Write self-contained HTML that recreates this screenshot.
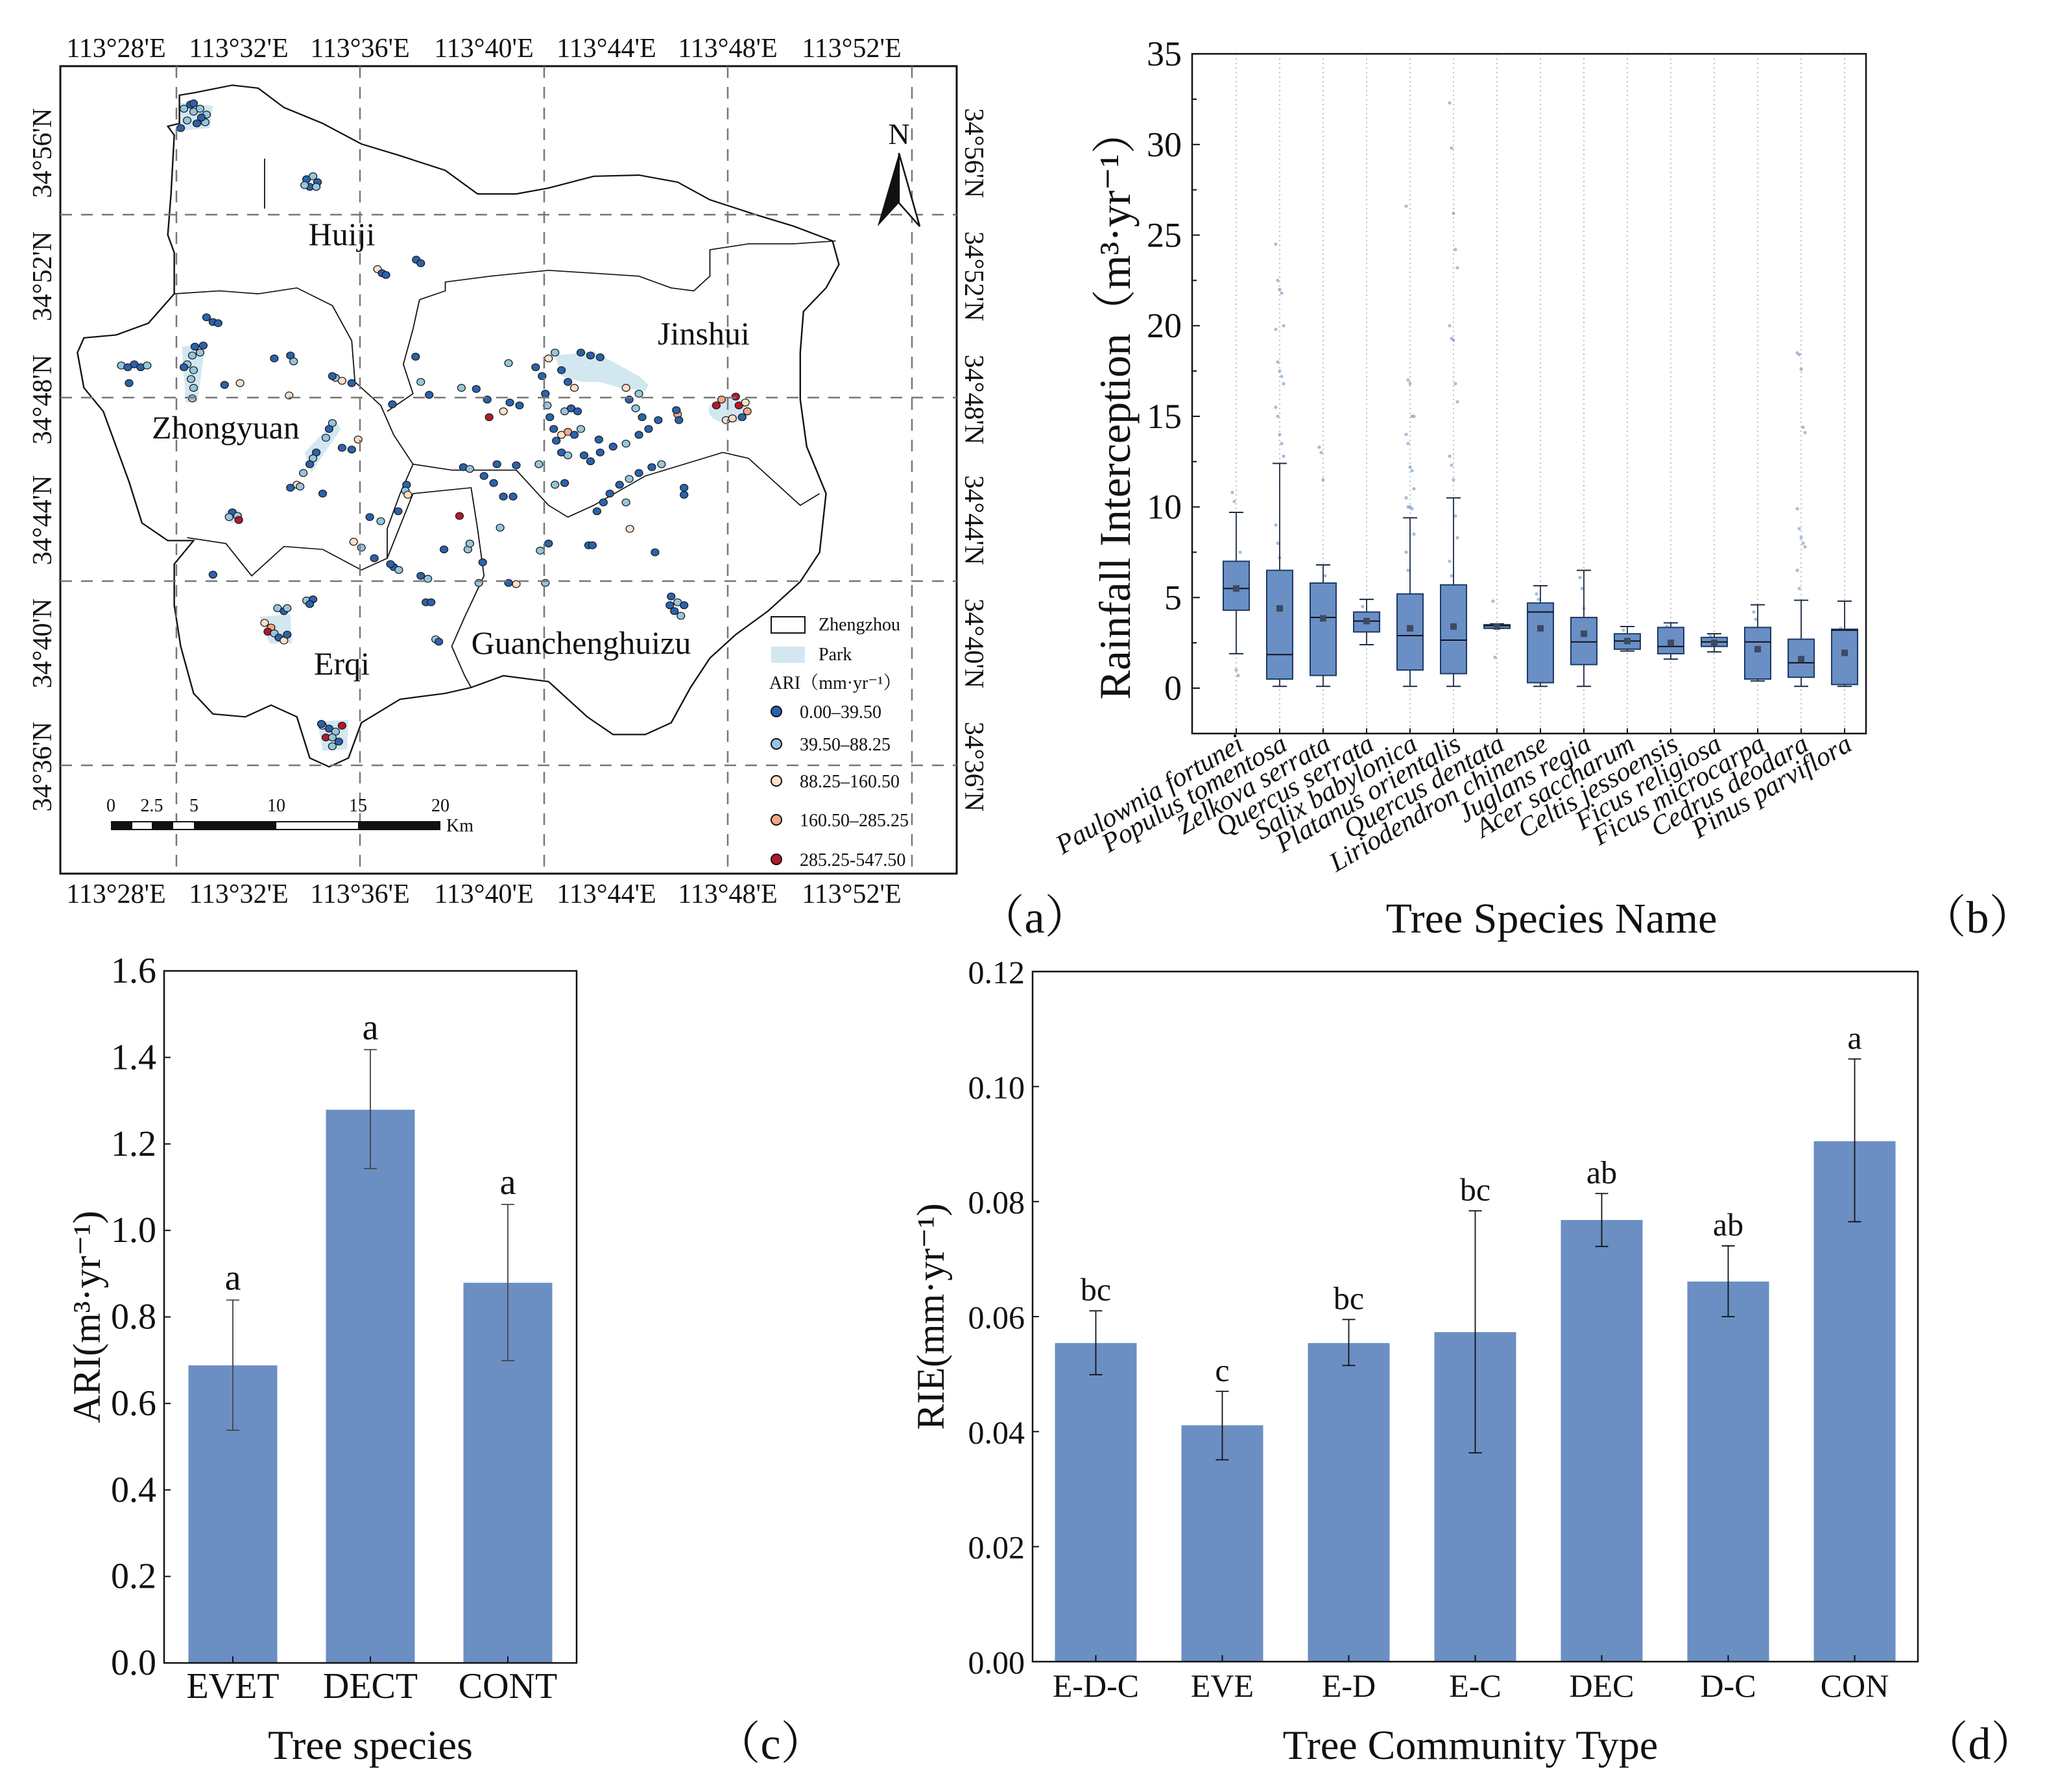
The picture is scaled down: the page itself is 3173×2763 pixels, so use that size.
<!DOCTYPE html>
<html><head><meta charset="utf-8"><style>
html,body{margin:0;padding:0;background:#fff}
svg{display:block}
text{font-family:"Liberation Serif","Noto Serif CJK SC",serif;fill:#111}
</style></head><body>
<svg id="fig" xmlns="http://www.w3.org/2000/svg" width="3173" height="2763" viewBox="0 0 3173 2763">
<g id="mapA">
  <rect x="93" y="102" width="1382" height="1245" fill="none" stroke="#111" stroke-width="3"/>
  <g transform="scale(0.995,0.906)">
    <g fill="#d3e7f1" stroke="none">
      <polygon points="278,175 330,180 325,218 280,222"/>
      <polygon points="860,605 920,598 990,640 1005,655 1000,665 960,660 930,650 900,650 870,640"/>
      <ellipse cx="1130" cy="698" rx="32" ry="22"/>
      <ellipse cx="362" cy="878" rx="14" ry="12"/>
      <polygon points="492,1228 540,1225 538,1275 500,1278"/>
      <polygon points="402,1050 450,1045 452,1095 418,1095"/>
      <polygon points="282,590 318,585 306,685 288,685"/>
      <polygon points="472,770 520,715 528,730 482,805"/>
    </g>
    <path fill="none" stroke="#111" stroke-width="2.4" d="M278,162 L300,158 360,145 400,150 440,183 500,210 560,245 620,265 690,290 740,330 800,330 850,320 920,300 990,298 1050,310 1100,340 1170,365 1230,385 1290,410 1300,450 1280,490 1245,530 1240,600 1240,680 1250,760 1280,840 1270,940 1240,990 1190,1040 1140,1080 1100,1120 1070,1170 1040,1230 1000,1250 950,1250 910,1220 850,1160 780,1150 730,1170 690,1180 620,1190 560,1230 540,1290 510,1305 480,1290 460,1220 420,1200 380,1220 330,1215 300,1180 280,1100 270,1030 270,960 300,920 260,920 220,890 200,820 180,760 160,700 130,660 120,600 130,575 180,570 230,550 270,500 270,430 260,400 265,330 270,230 260,215 278,210 Z"/>
    <path fill="none" stroke="#111" stroke-width="1.8" d="M270,500 L340,495 400,500 460,490 515,520 545,580 550,650 590,690 610,740 640,790 700,800 740,800 800,800 850,860 880,880 920,860 1000,810 1060,790 1120,770 1160,780 1200,820 1240,860 1270,840 M650,510 L690,495 690,480 760,470 850,460 990,470 1040,490 1075,495 1100,470 1100,425 1160,415 1230,415 1295,410 M650,510 L640,560 625,620 640,670 600,700 M290,915 L350,925 390,980 440,930 500,935 560,970 600,950 600,900 620,840 640,790 M600,950 L640,840 730,830 740,900 750,980 720,1050 700,1100 720,1150 730,1170 M410,270 L410,355"/>
    <g id="dots"></g>
  </g>
  <g stroke="#777" stroke-width="2.5" stroke-dasharray="18,14">
    <line x1="272" y1="102" x2="272" y2="1347"/><line x1="555" y1="102" x2="555" y2="1347"/><line x1="839" y1="102" x2="839" y2="1347"/><line x1="1122" y1="102" x2="1122" y2="1347"/><line x1="1406" y1="102" x2="1406" y2="1347"/>
    <line x1="93" y1="331" x2="1475" y2="331"/><line x1="93" y1="613" x2="1475" y2="613"/><line x1="93" y1="896" x2="1475" y2="896"/><line x1="93" y1="1180" x2="1475" y2="1180"/>
  </g>
  <g font-size="42" text-anchor="middle">
    <text x="179" y="88">113°28'E</text><text x="368" y="88">113°32'E</text><text x="555" y="88">113°36'E</text><text x="746" y="88">113°40'E</text><text x="935" y="88">113°44'E</text><text x="1122" y="88">113°48'E</text><text x="1313" y="88">113°52'E</text>
  </g>
  <g font-size="42" text-anchor="middle">
    <text x="179" y="1392">113°28'E</text><text x="368" y="1392">113°32'E</text><text x="555" y="1392">113°36'E</text><text x="746" y="1392">113°40'E</text><text x="935" y="1392">113°44'E</text><text x="1122" y="1392">113°48'E</text><text x="1313" y="1392">113°52'E</text>
  </g>
  <g font-size="42" text-anchor="middle">
    <text transform="translate(79,236) rotate(-90)">34°56'N</text><text transform="translate(79,426) rotate(-90)">34°52'N</text><text transform="translate(79,616) rotate(-90)">34°48'N</text><text transform="translate(79,802) rotate(-90)">34°44'N</text><text transform="translate(79,992) rotate(-90)">34°40'N</text><text transform="translate(79,1182) rotate(-90)">34°36'N</text>
  </g>
  <g font-size="42" text-anchor="middle">
    <text transform="translate(1488,236) rotate(90)">34°56'N</text><text transform="translate(1488,426) rotate(90)">34°52'N</text><text transform="translate(1488,616) rotate(90)">34°48'N</text><text transform="translate(1488,802) rotate(90)">34°44'N</text><text transform="translate(1488,992) rotate(90)">34°40'N</text><text transform="translate(1488,1182) rotate(90)">34°36'N</text>
  </g>
  <g font-size="50" text-anchor="middle">
    <text x="527" y="378">Huiji</text><text x="348" y="676">Zhongyuan</text><text x="1085" y="531">Jinshui</text><text x="527" y="1040">Erqi</text><text x="896" y="1008">Guanchenghuizu</text>
  </g>
  <g>
    <text x="1386" y="222" font-size="46" text-anchor="middle">N</text>
    <polygon points="1386,236 1353,349 1386,313" fill="#111"/>
    <polygon points="1386,236 1418,349 1386,313" fill="#fff" stroke="#111" stroke-width="2.5"/>
  </g>
  <g>
    <rect x="171" y="1266" width="508" height="14" fill="#111"/>
    <rect x="204" y="1268" width="30" height="10" fill="#fff"/><rect x="267" y="1268" width="32" height="10" fill="#fff"/><rect x="426" y="1268" width="126" height="10" fill="#fff"/>
    <g font-size="28" text-anchor="middle"><text x="171" y="1251">0</text><text x="234" y="1251">2.5</text><text x="299" y="1251">5</text><text x="426" y="1251">10</text><text x="552" y="1251">15</text><text x="679" y="1251">20</text></g>
    <text x="688" y="1282" font-size="28">Km</text>
  </g>
  <g>
    <rect x="1189" y="951" width="52" height="25" fill="#fff" stroke="#111" stroke-width="2"/>
    <text x="1262" y="972" font-size="28">Zhengzhou</text>
    <rect x="1189" y="997" width="52" height="25" fill="#d3e7f1"/>
    <text x="1262" y="1018" font-size="28">Park</text>
    <text x="1186" y="1062" font-size="28">ARI（mm·yr⁻¹）</text>
    <g id="legendItems"></g>
  </g>
</g>
<g id="panelB"></g>
<g id="panelC"></g>
<g id="panelD"></g>
<g font-size="70" text-anchor="middle">
  <text x="1595" y="1438">（a）</text><text x="3049" y="1438">（b）</text><text x="1188" y="2712">（c）</text><text x="3052" y="2712">（d）</text>
</g>
</svg>
<script>
// ---- map data (site coordinates in map units, ARI class) ----
const siteX=[285,295,300,310,320,290,305,318,280,300,312,475,485,492,480,490,472,585,592,598,645,652,320,330,338,188,198,208,218,228,200,302,298,290,300,296,300,298,285,310,315,348,372,425,450,455,448,520,530,545,515,515,510,505,490,485,480,470,460,450,465,530,545,555,500,360,368,370,355,573,590,548,560,580,610,618,605,630,628,632,617,608,644,652,665,715,738,755,758,780,790,805,788,718,728,770,800,750,765,780,795,835,830,840,850,860,870,880,890,900,915,930,845,848,852,858,862,870,880,890,900,875,885,895,870,880,905,915,930,950,970,990,1005,1020,995,985,975,970,990,928,925,935,945,960,975,990,1010,1025,1060,1060,970,976,1015,1050,1052,1048,875,860,1110,1118,1125,1135,1140,1145,1155,1158,1150,1040,1050,1045,1055,1060,1038,430,440,445,410,420,415,425,432,440,445,475,485,480,675,680,660,668,688,725,728,748,742,788,800,845,837,850,912,918,775,712,663,652,330,500,510,520,505,515,525,530,515,498];
const siteY=[185,178,190,185,195,205,210,208,218,176,200,305,300,310,318,318,315,458,465,468,442,448,540,548,550,622,625,620,625,622,652,590,605,620,630,645,660,678,625,600,588,655,652,610,605,615,673,643,648,652,640,720,730,745,770,780,790,805,825,830,828,762,765,748,840,872,878,885,880,880,887,922,932,950,965,970,960,825,835,842,870,688,607,650,672,660,662,680,710,700,685,690,618,795,798,790,792,810,822,845,845,790,625,640,610,600,630,650,660,600,605,608,670,690,710,730,750,740,735,740,730,700,695,700,770,775,775,785,770,760,755,740,730,715,710,695,680,660,670,748,870,855,840,825,815,805,795,790,830,842,855,900,940,705,715,698,822,825,690,680,715,712,675,690,685,700,710,1015,1025,1040,1048,1030,1030,1035,1040,1035,1060,1068,1075,1078,1085,1090,1080,1022,1020,1028,1088,1092,1025,1025,935,935,925,957,992,992,994,992,937,925,928,928,898,878,985,980,978,1235,1240,1245,1255,1255,1262,1235,1270,1232];
const siteClass=[1,0,1,1,1,1,0,1,0,0,0,0,1,0,0,1,1,2,0,0,0,0,0,0,0,1,0,0,0,1,0,0,1,1,1,1,1,1,0,1,0,0,2,0,0,1,2,1,2,0,0,1,0,1,0,1,0,1,2,0,1,0,0,2,0,0,1,4,1,0,1,2,1,0,0,1,0,0,1,2,0,0,0,1,0,1,0,0,4,2,0,0,1,0,1,0,0,0,0,0,0,1,0,0,2,1,0,0,2,0,0,0,0,1,0,0,0,2,3,0,1,1,0,0,0,1,0,0,0,0,1,0,0,0,0,1,0,2,1,0,0,0,0,0,1,0,0,1,0,0,1,2,0,3,0,0,0,1,4,3,2,2,4,4,2,3,0,0,1,0,1,0,0,1,0,1,2,3,4,1,0,2,0,1,0,0,1,0,0,0,0,1,1,0,1,0,2,1,1,0,0,0,1,4,1,0,0,1,0,1,4,1,0,4,1];
const classColors=["#2a63ad","#95c6df","#fde0c8","#f3a784","#b5182b"];
const classLabels=["0.00–39.50","39.50–88.25","88.25–160.50","160.50–285.25","285.25-547.50"];

// ---- panel b data ----
const speciesNames=["Paulownia fortunei","Populus tomentosa","Zelkova serrata","Quercus serrata","Salix babylonica","Platanus orientalis","Quercus dentata","Liriodendron chinense","Juglans regia","Acer saccharum","Celtis jessoensis","Ficus religiosa","Ficus microcarpa","Cedrus deodara","Pinus parviflora"];
const whiskerHigh=[9.7,12.4,6.8,4.9,9.4,10.5,3.55,5.65,6.5,3.4,3.6,3.0,4.6,4.85,4.8];
const q3Vals=[7.0,6.5,5.8,4.2,5.2,5.7,3.5,4.7,3.9,3.0,3.35,2.8,3.35,2.7,3.25];
const medianVals=[5.5,1.85,3.9,3.7,2.9,2.65,3.45,4.2,2.55,2.6,2.3,2.55,2.55,1.4,3.2];
const q1Vals=[4.3,0.5,0.7,3.1,1.0,0.8,3.3,0.3,1.3,2.15,1.9,2.3,0.5,0.6,0.2];
const whiskerLow=[1.9,0.1,0.1,2.4,0.1,0.1,3.3,0.1,0.1,2.05,1.6,2.0,0.4,0.1,0.1];
const meanVals=[5.5,4.4,3.85,3.7,3.3,3.4,3.4,3.3,3.0,2.6,2.5,2.5,2.15,1.6,1.95];
const outlierVals=[[10.8,10.3,1.0,0.7,7.5,6.2],[24.5,22.5,22,21.8,20,19.8,18,17.5,17.2,16.8,15.5,15,14,13.5,12.8,9,8,7.2],[13.3,13,11.5,6.2,5],[4.5],[26.6,17,16.8,15,15,14,13.5,12.2,12,11,10.5,10,10,9.9,8.5,7.5,6.5],[32.3,29.8,26.2,24.2,23.2,20,19.3,19.2,16.8,15.8,12.8,12.3,11.5,9.5,8.3,7,6.2],[4.8,1.7],[5.2,4.9],[6.1,5.5,4.4],[3.2],[3.4],[2.9],[4.2,3.8],[18.5,18.4,17.6,14.4,14.1,9.9,8.8,8.3,8,7.8,6.5,5.5],[3.3]];
const bTicks=[0,5,10,15,20,25,30,35];

// ---- panel c data ----
const cCats=["EVET","DECT","CONT"];
const cVals=[0.688,1.279,0.879];
const cErrHi=[0.839,1.418,1.060];
const cErrLo=[0.538,1.143,0.699];
const cLetters=["a","a","a"];
const cTicks=["0.0","0.2","0.4","0.6","0.8","1.0","1.2","1.4","1.6"];

// ---- panel d data ----
const dCats=["E-D-C","EVE","E-D","E-C","DEC","D-C","CON"];
const dVals=[0.0554,0.0411,0.0554,0.0573,0.0768,0.0661,0.0905];
const dErrHi=[0.0610,0.0470,0.0595,0.0784,0.0814,0.0723,0.1048];
const dErrLo=[0.0499,0.0351,0.0515,0.0363,0.0722,0.0600,0.0765];
const dLetters=["bc","c","bc","bc","ab","ab","a"];
const dTicks=["0.00","0.02","0.04","0.06","0.08","0.10","0.12"];

const NS="http://www.w3.org/2000/svg";
function mk(tag,attrs,parent){const e=document.createElementNS(NS,tag);for(const k in attrs)e.setAttribute(k,attrs[k]);parent.appendChild(e);return e;}
function tx(parent,x,y,str,size,anchor,extra){const t=mk("text",Object.assign({x:x,y:y,"font-size":size,"text-anchor":anchor||"middle"},extra||{}),parent);t.textContent=str;return t;}

// ---- map dots ----
const dotsG=document.getElementById("dots");
for(let i=0;i<siteX.length;i++){
  const cls=(siteClass[i]===undefined)?0:siteClass[i];
  const c=mk("circle",{cx:siteX[i],cy:siteY[i],r:6,fill:classColors[cls],stroke:"#1a1a1a","stroke-width":1.3},dotsG);
  
  
}
const legG=document.getElementById("legendItems");
const legY=[1097,1147,1204,1264,1325];
for(let i=0;i<5;i++){
  const c=mk("circle",{cx:1197,cy:legY[i],r:8,fill:classColors[i],stroke:"#111","stroke-width":2},legG);
  
  
  const t=tx(legG,1233,legY[i]+10,classLabels[i],28,"start");
  
  
}

// ---- panel b ----
const B=document.getElementById("panelB");
const bL=1838,bR=2877,bT=83,bBot=1131;
function yB(v){return 1061-v*27.94;}
function xB(i){return 1906+i*67;}
for(let i=0;i<speciesNames.length;i++){
  const g=mk("line",{x1:xB(i),y1:bT,x2:xB(i),y2:bBot,stroke:"#aaa","stroke-width":1.5,"stroke-dasharray":"2,5"},B);
  
  
}
for(let i=0;i<speciesNames.length;i++){
  const x=xB(i);
  const pts=outlierVals[i];
  for(let j=0;j<pts.length;j++){
    const p=mk("circle",{cx:x+((j%5)-2)*3,cy:yB(pts[j]),r:2.6,fill:"#5f86be","fill-opacity":0.55},B);
    
    
  }
  const w=mk("line",{x1:x,y1:yB(whiskerHigh[i]),x2:x,y2:yB(whiskerLow[i]),stroke:"#1b2b44","stroke-width":1.8},B);
  
  
  for(const v of [whiskerHigh[i],whiskerLow[i]]){
    const cap=mk("line",{x1:x-11,y1:yB(v),x2:x+11,y2:yB(v),stroke:"#1b2b44","stroke-width":2},B);
    
    
  }
  const box=mk("rect",{x:x-20,y:yB(q3Vals[i]),width:40,height:Math.max(2,yB(q1Vals[i])-yB(q3Vals[i])),fill:"#6a8fc5",stroke:"#1c3a66","stroke-width":2},B);
  
  
  const m=mk("line",{x1:x-20,y1:yB(medianVals[i]),x2:x+20,y2:yB(medianVals[i]),stroke:"#111","stroke-width":2},B);
  
  
  const mn=mk("rect",{x:x-5,y:yB(meanVals[i])-5,width:10,height:10,fill:"#3d4a5e"},B);
  
  
  const t=tx(B,0,0,speciesNames[i],42,"end",{transform:"translate("+(x+14)+","+(bBot+24)+") rotate(-30)","font-style":"italic"});
  
  
  const tk=mk("line",{x1:x,y1:bBot,x2:x,y2:bBot-8,stroke:"#111","stroke-width":2},B);
  
  
}
const bFrame=mk("rect",{x:bL,y:bT,width:bR-bL,height:bBot-bT,fill:"none",stroke:"#111","stroke-width":2.5},B);


for(let i=0;i<bTicks.length;i++){
  const y=yB(bTicks[i]);
  const t=tx(B,bL-16,y+18,String(bTicks[i]),54,"end");
  
  
  const tk=mk("line",{x1:bL,y1:y,x2:bL+12,y2:y,stroke:"#111","stroke-width":2},B);
  
  
  if(i<bTicks.length-1){
    const mt=mk("line",{x1:bL,y1:yB(bTicks[i]+2.5),x2:bL+7,y2:yB(bTicks[i]+2.5),stroke:"#111","stroke-width":2},B);
    
    
  }
}
const byt=tx(B,0,0,"Rainfall Interception（m³·yr⁻¹）",68,"middle",{transform:"translate(1742,624) rotate(-90)"});


const bxt=tx(B,2392,1438,"Tree Species Name",66,"middle");



// ---- generic bar panel ----
function barPanel(G,cats,vals,hi,lo,letters,ticks,maxV,L,R,T,Bt,x0,step,bw,ytitle,yx,xtitle,xtx,tickSize,letterSize,errColor){
  function y(v){return Bt-v*(Bt-T)/maxV;}
  function x(i){return x0+i*step;}
  for(let i=0;i<cats.length;i++){
    const b=mk("rect",{x:x(i)-bw/2,y:y(vals[i]),width:bw,height:Bt-y(vals[i]),fill:"#6b8fc2"},G);
    
    
    const e=mk("line",{x1:x(i),y1:y(hi[i]),x2:x(i),y2:y(lo[i]),stroke:errColor,"stroke-width":1.8},G);
    
    
    for(const v of [hi[i],lo[i]]){
      const c=mk("line",{x1:x(i)-10,y1:y(v),x2:x(i)+10,y2:y(v),stroke:errColor,"stroke-width":1.8},G);
      
      
    }
    const lt=tx(G,x(i),y(hi[i])-16,letters[i],letterSize,"middle");
    
    
    const cl=tx(G,x(i),Bt+54,cats[i],tickSize,"middle");
    
    
    const tk=mk("line",{x1:x(i),y1:Bt,x2:x(i),y2:Bt-10,stroke:"#111","stroke-width":2},G);
    
    
  }
  const f=mk("rect",{x:L,y:T,width:R-L,height:Bt-T,fill:"none",stroke:"#111","stroke-width":2.5},G);
  
  
  for(let i=0;i<ticks.length;i++){
    const v=maxV*i/(ticks.length-1);
    const t=tx(G,L-12,y(v)+18,ticks[i],tickSize,"end");
    
    
    const tk=mk("line",{x1:L,y1:y(v),x2:L+10,y2:y(v),stroke:"#111","stroke-width":2},G);
    
    
  }
  const yt=tx(G,0,0,ytitle,60,"middle",{transform:"translate("+yx+","+((T+Bt)/2+0)+") rotate(-90)"});
  
  
  const xt=tx(G,xtx,2712,xtitle,64,"middle");
  
  
}
barPanel(document.getElementById("panelC"),cCats,cVals,cErrHi,cErrLo,cLetters,cTicks,1.6,253,889,1497,2564,359,212,137,"ARI(m³·yr⁻¹)",154,"Tree species",571,56,56,"#444");
barPanel(document.getElementById("panelD"),dCats,dVals,dErrHi,dErrLo,dLetters,dTicks,0.12,1592,2957,1498,2562,1689.5,195,126,"RIE(mm·yr⁻¹)",1455,"Tree Community Type",2267,50,50,"#111");
</script>
</body></html>
